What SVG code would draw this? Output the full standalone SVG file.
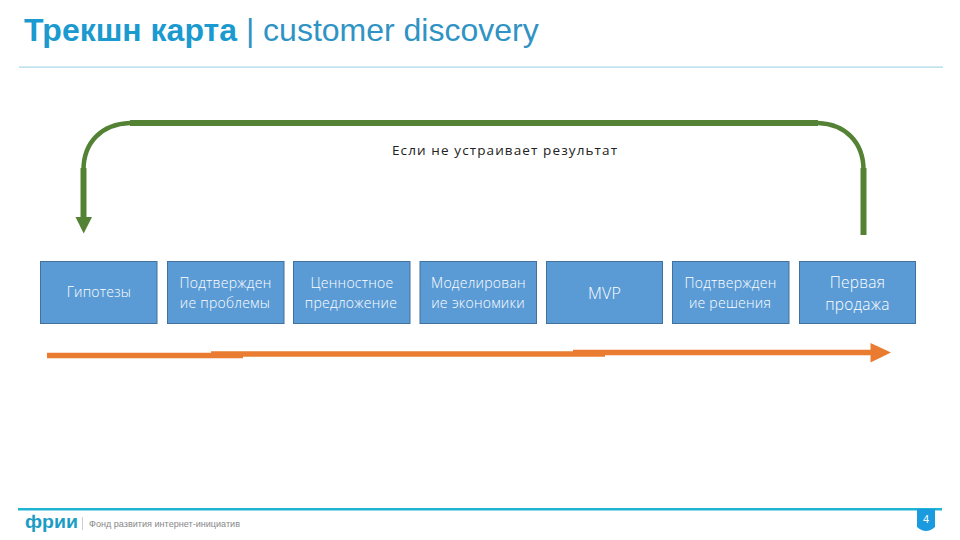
<svg xmlns="http://www.w3.org/2000/svg" width="960" height="540" viewBox="0 0 960 540">
<style>
.box{fill:#5b9bd5;stroke:#41719c;stroke-width:1}
.t{font-family:"Open Sans","Noto Sans",sans-serif;font-weight:300;fill:#fff;text-anchor:middle;font-size:14px;letter-spacing:.25px}
.g{fill:none;stroke:#548235;stroke-width:6}
.a{fill:none;stroke:#548235;stroke-width:4.500}
.o{fill:none;stroke:#e97c30;stroke-width:5.500}
</style>
<rect width="960" height="540" fill="#fff"/>
<text x="24" y="41" font-family="Liberation Sans,Arial,sans-serif" font-size="32" fill="#1b9ad0"><tspan font-weight="bold">Трекшн карта</tspan><tspan fill="#2f93c4"> | customer discovery</tspan></text>
<rect x="19" y="66.500" width="924" height="1.200" fill="#a5d8ea"/>
<g id="connectors">
<path class="g" d="M130 123H818"/>
<path class="a" d="M818 123C845 124 863.500 142 863.500 170"/>
<path class="g" d="M863.500 168V235"/>
<path class="a" d="M130 123C102 124 83.500 142 83.500 170"/>
<path class="g" d="M83.500 168V218"/>
<polygon points="75.500,217 92,217 83.700,233.500" fill="#548235"/>
<path class="o" d="M47 355.500H243"/>
<path class="o" d="M211 354H605"/>
<path class="o" d="M573 352.500H873"/>
<polygon points="870.500,343 891,352.500 870.500,362.500" fill="#e97c30"/>
</g>
<text x="504.500" y="155" font-family="Open Sans,Noto Sans,sans-serif" font-size="13.500" fill="#222" text-anchor="middle" textLength="225" lengthAdjust="spacing">Если не устраивает результат</text>
<g id="n1"><rect class="box" x="40.500" y="261.500" width="116.500" height="62"/><text class="t" x="99" y="297">Гипотезы</text></g>
<g id="n2"><rect class="box" x="167.500" y="261.500" width="116.500" height="62"/><text class="t" x="225.500" y="288">Подтвержден</text><text class="t" x="225" y="308">ие проблемы</text></g>
<g id="n3"><rect class="box" x="293.500" y="261.500" width="116.500" height="62"/><text class="t" x="352" y="288">Ценностное</text><text class="t" x="351" y="308">предложение</text></g>
<g id="n4"><rect class="box" x="420" y="261.500" width="116.500" height="62"/><text class="t" x="478.500" y="288">Моделирован</text><text class="t" x="478" y="308">ие экономики</text></g>
<g id="n5"><rect class="box" x="546.500" y="261.500" width="116" height="62"/><text class="t" x="604.500" y="298.500" style="font-size:16px">MVP</text></g>
<g id="n6"><rect class="box" x="672.500" y="261.500" width="116.500" height="62"/><text class="t" x="730.500" y="288">Подтвержден</text><text class="t" x="730" y="308">ие решения</text></g>
<g id="n7"><rect class="box" x="799.500" y="261.500" width="116" height="62"/><text class="t" x="857.500" y="288" style="font-size:15.500px">Первая</text><text class="t" x="857.500" y="310" style="font-size:15.500px">продажа</text></g>
<rect x="18" y="508" width="924" height="2.500" fill="#1fb4d2"/>
<text x="25" y="528" font-family="Liberation Sans,Arial,sans-serif" font-size="18" font-weight="bold" fill="#1a9cc4" textLength="53" lengthAdjust="spacingAndGlyphs">фрии</text>
<rect x="82" y="517" width="1" height="13" fill="#ccc"/>
<text x="89" y="527" font-family="Liberation Sans,Arial,sans-serif" font-size="8.500" fill="#888" textLength="151" lengthAdjust="spacingAndGlyphs">Фонд развития интернет-инициатив</text>
<path d="M917 509H935V527Q926 535 917 527Z" fill="#1a9be0"/>
<text x="926" y="523" font-family="Liberation Sans,Arial,sans-serif" font-size="11" fill="#fff" text-anchor="middle">4</text>
</svg>
